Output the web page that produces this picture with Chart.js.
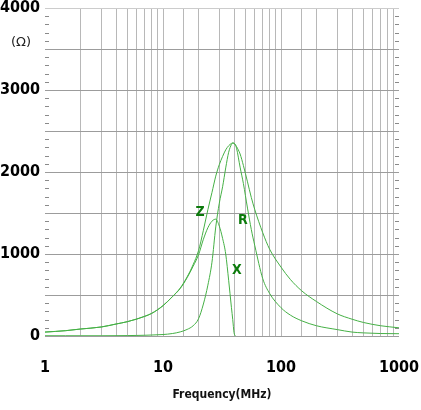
<!DOCTYPE html>
<html>
<head>
<meta charset="utf-8">
<script src="https://cdn.jsdelivr.net/npm/chart.js@4.4.0/dist/chart.umd.min.js"></script>
<style>
  html, body { margin: 0; padding: 0; background: #fff; }
  #wrap { width: 421px; height: 410px; }
</style>
</head>
<body>
<div id="wrap"><canvas id="chart"></canvas></div>
<script>
// frequencies (MHz)
const freqs = [1, 1.5, 2, 3, 4, 5, 6, 7, 8, 10, 12, 14, 16, 18, 20, 22, 24, 26, 28, 30, 32, 34, 36, 38, 39, 40, 41, 42, 45, 48, 52, 56, 60, 70, 80, 100, 120, 150, 200, 300, 400, 500, 700, 1000];
// impedance |Z| (ohm)
const zValues = [48, 65, 85, 110, 146, 175, 207, 240, 275, 370, 480, 585, 720, 870, 1040, 1290, 1540, 1750, 1950, 2090, 2190, 2270, 2320, 2348, 2355, 2350, 2335, 2310, 2220, 2080, 1880, 1690, 1540, 1260, 1060, 840, 690, 550, 420, 270, 205, 165, 125, 100];
// resistance R (ohm)
const rValues = [3, 3, 3, 3, 4, 5, 7, 9, 12, 18, 30, 50, 80, 125, 210, 390, 620, 900, 1330, 1620, 1820, 2050, 2240, 2335, 2352, 2350, 2330, 2290, 2060, 1860, 1560, 1300, 1100, 700, 520, 345, 255, 185, 125, 78, 48, 38, 30, 28];
// reactance X (ohm), goes below zero after resonance
const xValues = [48, 65, 85, 110, 146, 175, 207, 240, 275, 370, 478, 580, 710, 850, 990, 1180, 1320, 1400, 1425, 1340, 1190, 1000, 680, 350, 200, 40, 0];

const xTickLabels = [1, 10, 100, 1000];
const yTickLabels = [0, 1000, 2000, 3000, 4000];

const curveLabels = [
  { text: 'Z', f: 20.6, v: 1510 },
  { text: 'R', f: 47.5, v: 1415 },
  { text: 'X', f: 42.3, v: 805 }
];

const lineColor = '#45b045';
const labelColor = '#0b7a0b';
const tickFont = { family: 'DejaVu Sans Condensed', size: 16, weight: 'bold' };

function toPoints(vals) {
  return vals.map((v, i) => ({ x: freqs[i], y: v }));
}

const extras = {
  id: 'extras',
  afterDatasetsDraw(chart) {
    const ctx = chart.ctx;
    const area = chart.chartArea;
    const xs = chart.scales.x;
    const ys = chart.scales.y;
    ctx.save();
    // short inner ticks every 100 ohm
    ctx.strokeStyle = '#8a8a8a';
    ctx.lineWidth = 1;
    for (let v = 100; v < 4000; v += 100) {
      if (v % 500 === 0) continue;
      const py = Math.round(ys.getPixelForValue(v)) + 0.5;
      ctx.beginPath();
      ctx.moveTo(area.left, py);
      ctx.lineTo(area.left + 4, py);
      ctx.moveTo(area.right - 4, py);
      ctx.lineTo(area.right, py);
      ctx.stroke();
    }
    // curve names
    ctx.fillStyle = labelColor;
    ctx.font = 'bold 14px "DejaVu Sans Condensed"';
    ctx.textAlign = 'center';
    ctx.textBaseline = 'middle';
    curveLabels.forEach(l => {
      ctx.fillText(l.text, xs.getPixelForValue(l.f), ys.getPixelForValue(l.v));
    });
    // unit
    ctx.fillStyle = '#222';
    ctx.font = '13px "DejaVu Sans"';
    ctx.fillText('(\u03a9)', 21, 43);
    ctx.restore();
  }
};

const ctx = document.getElementById('chart').getContext('2d');
new Chart(ctx, {
  type: 'line',
  data: {
    datasets: [
      { label: 'Z', data: toPoints(zValues), borderColor: lineColor, borderWidth: 1, pointRadius: 0, cubicInterpolationMode: 'monotone', fill: false },
      { label: 'R', data: toPoints(rValues), borderColor: lineColor, borderWidth: 1, pointRadius: 0, cubicInterpolationMode: 'monotone', fill: false },
      { label: 'X', data: toPoints(xValues), borderColor: lineColor, borderWidth: 1, pointRadius: 0, cubicInterpolationMode: 'monotone', fill: false }
    ]
  },
  options: {
    responsive: true,
    maintainAspectRatio: false,
    animation: false,
    layout: { padding: { top: 8, right: 22, left: 0, bottom: 0 } },
    plugins: {
      legend: { display: false },
      tooltip: { enabled: false }
    },
    scales: {
      x: {
        type: 'logarithmic',
        min: 1,
        max: 1000,
        afterFit: (scale) => {
          scale.height = 74;
          scale.paddingLeft = 0;
          scale.paddingRight = 0;
        },
        grid: {
          drawTicks: false,
          color: (c) => (c.tick && (c.tick.value === 1 || c.tick.value === 1000)) ? 'rgba(0,0,0,0)' : '#b8b8b8'
        },
        border: { display: false },
        ticks: {
          autoSkip: false,
          maxRotation: 0,
          padding: 22,
          color: '#000',
          font: tickFont,
          callback: (v) => xTickLabels.includes(v) ? String(v) : ''
        },
        title: {
          display: true,
          text: 'Frequency(MHz)',
          color: '#111',
          font: { family: 'DejaVu Sans Condensed', size: 12, weight: 'bold' },
          padding: { top: 0, bottom: 8 }
        }
      },
      y: {
        min: 0,
        max: 4000,
        afterFit: (scale) => {
          scale.width = 45;
          scale.paddingTop = 0;
          scale.paddingBottom = 0;
        },
        grid: {
          drawTicks: false,
          color: (c) => {
            if (!c.tick) return 'rgba(0,0,0,0)';
            const v = c.tick.value;
            if (v === 4000) return '#cccccc';
            return v % 500 === 0 ? '#9c9c9c' : 'rgba(0,0,0,0)';
          }
        },
        border: { display: false },
        ticks: {
          stepSize: 100,
          autoSkip: false,
          padding: 5,
          color: '#000',
          font: tickFont,
          callback: (v) => yTickLabels.includes(v) ? String(v) : ''
        }
      }
    }
  },
  plugins: [extras]
});
</script>
</body>
</html>
